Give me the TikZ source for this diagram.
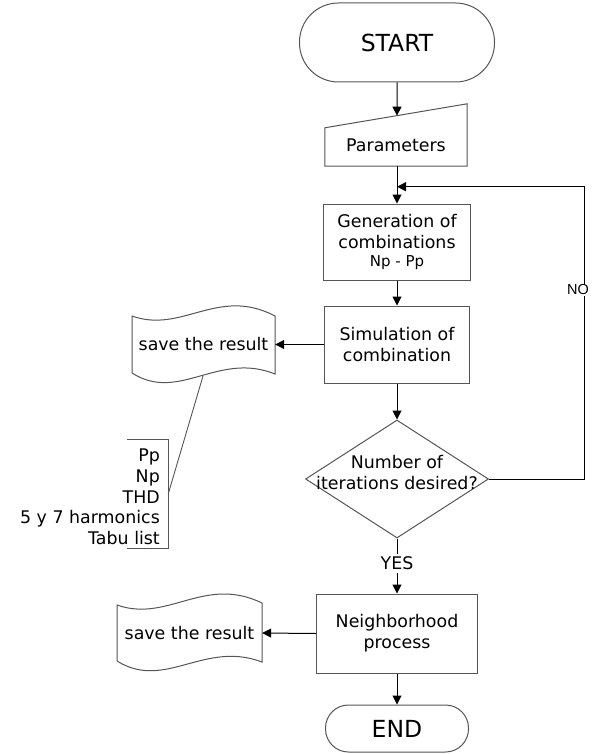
\documentclass[tikz,border=0pt]{standalone}
\usepackage{fontspec}
\setmainfont{DejaVu Sans}
\newfontfamily\arialfont{Liberation Sans}
\usetikzlibrary{arrows.meta,shapes.geometric,calc}
\definecolor{boxgray}{HTML}{555555}
\begin{document}
\begin{tikzpicture}[x=1pt,y=-1pt,
  every node/.style={inner sep=0pt, align=center, font=\fontsize{17.4}{21}\selectfont},
  procbox/.style={draw=boxgray, line width=1pt},
  termbox/.style={draw=boxgray, line width=1pt, font=\fontsize{23.5}{28}\selectfont},
  shapeline/.style={draw=boxgray, line width=1pt},
  arr/.style={draw=black, line width=1pt, -{Triangle[length=9pt,width=9pt]}},
  plain/.style={draw=boxgray, line width=0.9pt},
]
\useasboundingbox (0,0) rectangle (600,754);

% START
\node[termbox, minimum width=195pt, minimum height=79pt, rounded corners=39pt] (start) at (397,42.5) {START};

% Parameters (manual input)
\node[minimum width=142pt, minimum height=62pt, text height=38pt, text depth=4pt] (params) at (396,135) {Parameters};
\draw[shapeline] (params.south west) -- ($(params.north west)+(0,24)$) -- (params.north east) -- (params.south east) -- cycle;

% Generation
\node[procbox, minimum width=147pt, minimum height=76pt] (gen) at (397,242)
  {Generation of\\combinations\\[-3pt]{\fontsize{15}{17}\selectfont Np - Pp}};

% Simulation
\node[procbox, minimum width=145pt, minimum height=77pt] (sim) at (397,344.5)
  {Simulation of\\combination};

% Decision
\node[draw=boxgray, line width=1pt, shape=diamond, minimum width=183pt, minimum height=118pt] (dia) at (397,479) {};
\node (diatext) at (397,473) {Number of\\iterations desired?};

% Neighborhood
\node[procbox, minimum width=161pt, minimum height=79pt] (nb) at (397,633.5)
  {Neighborhood\\process};

% END
\node[termbox, minimum width=143pt, minimum height=47pt, rounded corners=23pt] (end) at (397,728.5) {END};

% save the result 1
\node[minimum width=143pt, minimum height=57pt] (save1) at (203.5,344.5) {save the result};
\draw[shapeline] (132,316) .. controls (182,334) and (218,286) .. (275,316)
  -- (275,374) .. controls (218,351) and (179,403) .. (132,373) -- cycle;

% save the result 2
\node[minimum width=145pt, minimum height=57pt] (save2) at (189.5,633) {save the result};
\draw[shapeline] (117,605) .. controls (168,623) and (204,575) .. (262,603)
  -- (262,662) .. controls (204,640) and (165,691) .. (117,661) -- cycle;

% annotation
\node[minimum width=41pt, minimum height=108pt] (brk) at (147.5,494) {};
\draw[plain] (brk.north west) -- (brk.north east) -- (brk.south east) -- (brk.south west);
\node[anchor=east, align=right, font=\fontsize{17.4}{20.75}\selectfont] (notes) at (160,497)
  {Pp\\Np\\THD\\5 y 7 harmonics\\Tabu list};
\coordinate (s1b) at (203,376);
\draw[plain] (s1b) -- (brk.east);

% connectors
\draw[arr] (start.south) -- ($($(params.north west)+(0,24)$)!0.507!(params.north east)$);
\draw[arr] (params.south -| gen.north) -- (gen.north);
\coordinate (join) at ($(params.south -| gen.north)!0.55!(gen.north)$);
\draw[arr] (gen.south) -- (sim.north);
\draw[arr] (sim.south) -- (dia.north);
\draw[arr] (sim.west) -- (save1.east);
\draw[arr] (dia.east) -- ++(95,0) |- (join);
\node[fill=white, inner sep=1pt, font=\arialfont\fontsize{14.5}{17}\selectfont] (nolab) at (578,290) {NO};
\draw[arr] (dia.south) -- node[pos=0.45, fill=white, inner sep=3pt] (yes) {YES} (nb.north);
\draw[arr] (nb.west) -- (save2.east);
\draw[arr] (nb.south) -- (end.north);
\end{tikzpicture}
\end{document}
